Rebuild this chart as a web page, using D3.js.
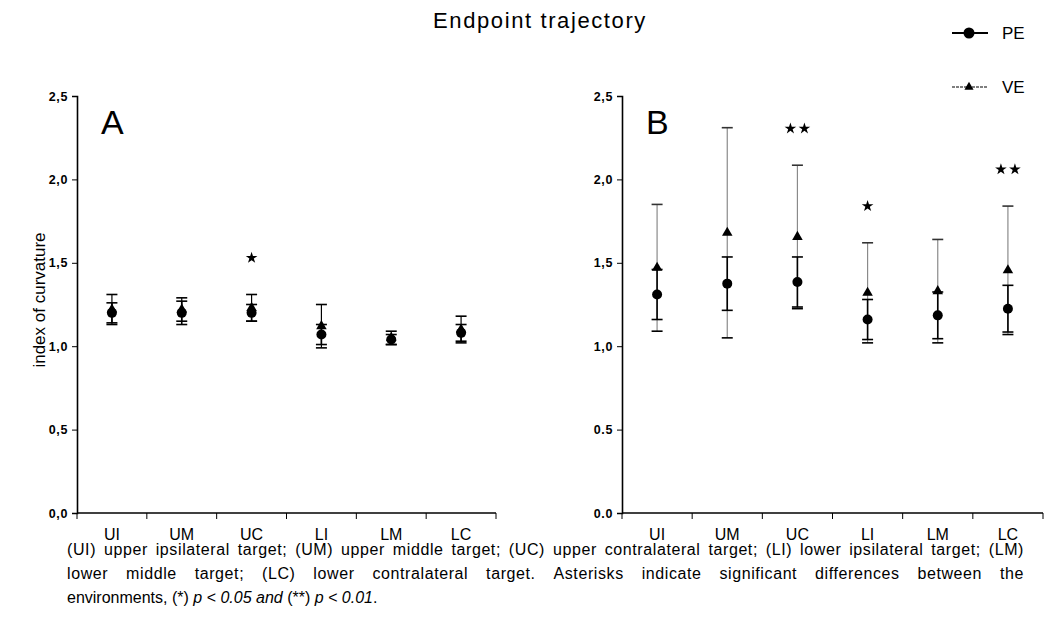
<!DOCTYPE html>
<html>
<head>
<meta charset="utf-8">
<script src="https://cdn.jsdelivr.net/npm/d3@7"></script>
<style>
  html, body { margin: 0; padding: 0; background: #fff; }
  svg { display: block; font-family: "Liberation Sans", Arial, sans-serif; }
</style>
</head>
<body>
<svg id="chart" width="1048" height="634"></svg>
<script>
// Index of curvature per target, two environments (PE / VE), mean ± SD
const categories = ["UI", "UM", "UC", "LI", "LM", "LC"];
const yTicks = [0, 0.5, 1, 1.5, 2, 2.5];
const tickLabelsA = ["0,0", "0,5", "1,0", "1,5", "2,0", "2,5"];
const tickLabelsB = ["0.0", "0.5", "1,0", "1,5", "2,0", "2,5"];

// Panel A
const peMeanA = [1.20, 1.20, 1.20, 1.07, 1.04, 1.08];
const peErrA  = [0.06, 0.07, 0.05, 0.06, 0.03, 0.05];
const veMeanA = [1.22, 1.22, 1.23, 1.12, 1.05, 1.10];
const veErrA  = [0.09, 0.07, 0.08, 0.13, 0.04, 0.08];
const sigA    = ["", "", "*", "", "", ""];

// Panel B
const peMeanB = [1.31, 1.375, 1.385, 1.16, 1.185, 1.225];
const peErrB  = [0.15, 0.16, 0.15, 0.12, 0.14, 0.14];
const veMeanB = [1.47, 1.68, 1.655, 1.32, 1.33, 1.455];
const veErrB  = [0.38, 0.63, 0.43, 0.30, 0.31, 0.385];
const sigB    = ["", "", "**", "*", "", "**"];

const title = "Endpoint trajectory";
const yLabel = "index of curvature";
const seriesNames = ["PE", "VE"];
const captionLines = [
  "(UI) upper ipsilateral target; (UM) upper middle target; (UC) upper contralateral target; (LI) lower ipsilateral target; (LM)",
  "lower middle target; (LC) lower contralateral target. Asterisks indicate significant differences between the"
];

const svg = d3.select("#chart");

svg.append("text")
  .attr("x", 540).attr("y", 28)
  .attr("text-anchor", "middle")
  .attr("font-size", 22)
  .attr("letter-spacing", 1.6)
  .text(title);

svg.append("text")
  .attr("transform", "translate(45,300) rotate(-90)")
  .attr("text-anchor", "middle")
  .attr("font-size", 17)
  .text(yLabel);

function drawPanel(cfg) {
  const x = d3.scaleBand().domain(categories).range([cfg.x0, cfg.x1]);
  const y = d3.scaleLinear().domain([0, 2.5]).range([513, 96]);
  const g = svg.append("g");

  // x axis: category boundaries as downward ticks
  g.append("line")
    .attr("x1", cfg.x0).attr("x2", cfg.x1)
    .attr("y1", y(0)).attr("y2", y(0))
    .attr("stroke", "#000").attr("stroke-width", 1.6);
  const bounds = categories.map(c => x(c)).concat([cfg.x1]);
  g.selectAll(".xt").data(bounds).join("line")
    .attr("x1", d => d).attr("x2", d => d)
    .attr("y1", y(0)).attr("y2", y(0) + 6)
    .attr("stroke", "#000").attr("stroke-width", 1);
  g.selectAll(".xl").data(categories).join("text")
    .attr("x", d => x(d) + x.bandwidth() / 2)
    .attr("y", y(0) + 27)
    .attr("text-anchor", "middle")
    .attr("font-size", 16)
    .text(d => d);

  // y axis
  const yAxis = d3.axisLeft(y).tickValues(yTicks).tickSize(5)
    .tickFormat((d, i) => cfg.tickLabels[i]);
  const ya = g.append("g").attr("transform", `translate(${cfg.x0},0)`).call(yAxis);
  ya.select(".domain").attr("stroke-width", 1.6);
  ya.selectAll("text")
    .attr("font-size", 12.5).attr("font-weight", "bold")
    .attr("letter-spacing", 0.6)
    .attr("font-family", "'Liberation Sans', Arial, sans-serif")
    .attr("dx", -1);

  // panel letter
  g.append("text")
    .attr("x", cfg.x0 + 24).attr("y", 134)
    .attr("font-size", 34)
    .text(cfg.letter);

  const cx = c => x(c) + x.bandwidth() / 2;
  const capW = 11;

  function errorBars(means, errs, color, width) {
    const data = categories.map((c, i) => ({ c, lo: means[i] - errs[i], hi: means[i] + errs[i] }));
    g.selectAll(null).data(data).join("line")
      .attr("x1", d => cx(d.c)).attr("x2", d => cx(d.c))
      .attr("y1", d => y(d.lo)).attr("y2", d => y(d.hi))
      .attr("stroke", color).attr("stroke-width", width);
    ["lo", "hi"].forEach(k => {
      g.selectAll(null).data(data).join("line")
        .attr("x1", d => cx(d.c) - capW / 2).attr("x2", d => cx(d.c) + capW / 2)
        .attr("y1", d => y(d[k])).attr("y2", d => y(d[k]))
        .attr("stroke", k === "lo" || color === "#000" ? "#000" : "#333")
        .attr("stroke-width", 1.6);
    });
  }

  errorBars(cfg.veMean, cfg.veErr, cfg.veColor, 1.2);
  errorBars(cfg.peMean, cfg.peErr, "#000", 1.6);

  // VE triangles
  g.selectAll(null).data(categories).join("path")
    .attr("d", d3.symbol(d3.symbolTriangle, 48))
    .attr("transform", (c, i) => `translate(${cx(c)},${y(cfg.veMean[i])})`)
    .attr("fill", "#000");
  // PE circles
  g.selectAll(null).data(categories).join("circle")
    .attr("cx", c => cx(c))
    .attr("cy", (c, i) => y(cfg.peMean[i]))
    .attr("r", 5)
    .attr("fill", "#000");

  // significance stars above the VE upper whisker
  categories.forEach((c, i) => {
    const n = cfg.sig[i].length;
    if (!n) return;
    const yy = y(cfg.veMean[i] + cfg.veErr[i] + 0.22);
    for (let k = 0; k < n; k++) {
      const dx = (k - (n - 1) / 2) * 14;
      g.append("path")
        .attr("d", d3.symbol(d3.symbolStar, 42))
        .attr("transform", `translate(${cx(c) + dx},${yy})`)
        .attr("fill", "#000");
    }
  });
}

drawPanel({ x0: 77, x1: 496, letter: "A", tickLabels: tickLabelsA,
  peMean: peMeanA, peErr: peErrA, veMean: veMeanA, veErr: veErrA, sig: sigA, veColor: "#000" });
drawPanel({ x0: 622, x1: 1043, letter: "B", tickLabels: tickLabelsB,
  peMean: peMeanB, peErr: peErrB, veMean: veMeanB, veErr: veErrB, sig: sigB, veColor: "#8a8a8a" });

// legend
const leg = svg.append("g");
[0, 1].forEach(i => {
  const ly = i === 0 ? 33 : 87;
  leg.append("line")
    .attr("x1", 952).attr("x2", 988).attr("y1", ly).attr("y2", ly)
    .attr("stroke", "#000").attr("stroke-width", i === 0 ? 1.8 : 1.2)
    .attr("stroke-dasharray", i === 0 ? null : "3,1");
  if (i === 0) {
    leg.append("circle").attr("cx", 969).attr("cy", ly).attr("r", 5.5).attr("fill", "#000");
  } else {
    leg.append("path").attr("d", d3.symbol(d3.symbolTriangle, 36))
      .attr("transform", `translate(969,${ly})`).attr("fill", "#000");
  }
  leg.append("text")
    .attr("x", 1002).attr("y", ly + 6)
    .attr("font-size", 17)
    .text(seriesNames[i]);
});

// caption: two justified lines and a final left-aligned line
const capX0 = 67, capX1 = 1024, capSize = 16;
const capY = [555, 579];
captionLines.forEach((line, li) => {
  const words = line.split(" ");
  const tg = svg.append("g");
  const nodes = words.map(w => tg.append("text")
    .attr("y", capY[li]).attr("font-size", capSize)
    .attr("letter-spacing", 0.6).text(w));
  const widths = nodes.map(n => n.node().getComputedTextLength());
  const total = d3.sum(widths);
  const gap = (capX1 - capX0 - total) / (words.length - 1);
  let xx = capX0;
  nodes.forEach((n, k) => { n.attr("x", xx); xx += widths[k] + gap; });
});
const last = svg.append("text").attr("x", capX0).attr("y", 603).attr("font-size", capSize);
last.append("tspan").text("environments, (*) ");
last.append("tspan").attr("font-style", "italic").text("p < 0.05 and");
last.append("tspan").text(" (**) ");
last.append("tspan").attr("font-style", "italic").text("p < 0.01");
last.append("tspan").text(".");
</script>
</body>
</html>
